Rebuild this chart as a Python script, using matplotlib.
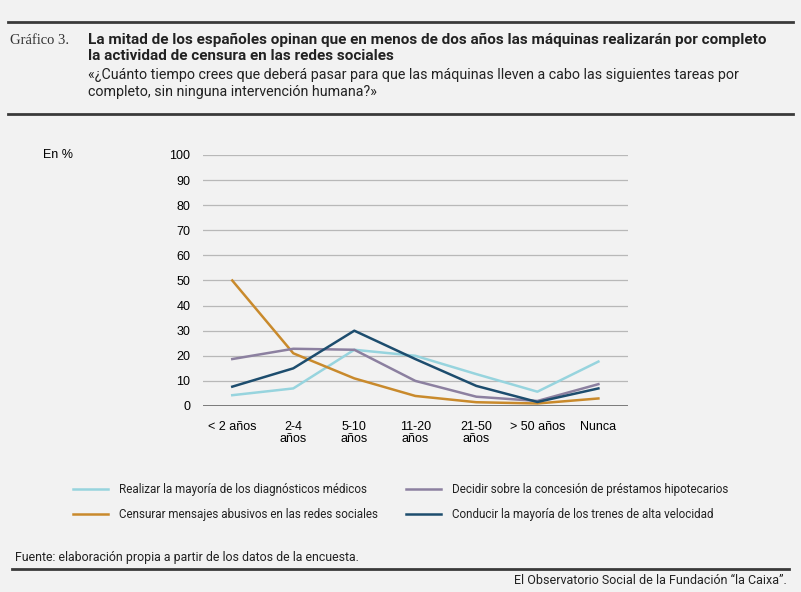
import matplotlib.pyplot as plt
from matplotlib.lines import Line2D

# Datos (en %)
periodos = ["< 2 años", "2-4\naños", "5-10\naños", "11-20\naños", "21-50\naños", "> 50 años", "Nunca"]
diagnosticos = [4.3, 7.0, 22.4, 20.0, 12.7, 5.7, 17.7]
prestamos = [18.7, 22.8, 22.4, 10.0, 3.7, 2.0, 8.7]
censura = [50.0, 21.0, 11.0, 4.0, 1.5, 1.0, 3.0]
trenes = [7.7, 15.0, 30.0, 18.7, 8.0, 1.6, 7.0]

# orden de la leyenda: columna izquierda primero
series = [
    ("Realizar la mayoría de los diagnósticos médicos", diagnosticos, "#97d4de"),
    ("Censurar mensajes abusivos en las redes sociales", censura, "#c98a2c"),
    ("Decidir sobre la concesión de préstamos hipotecarios", prestamos, "#8c80a0"),
    ("Conducir la mayoría de los trenes de alta velocidad", trenes, "#1d4d6e"),
]

FONT = ["Roboto", "DejaVu Sans"]
plt.rcParams["font.family"] = FONT
BG = "#f2f2f2"
TXT = "#222222"

fig = plt.figure(figsize=(8.01, 5.92), dpi=100, facecolor=BG)
ax = fig.add_axes([0.2534, 0.3142, 0.531, 0.424], facecolor=BG)

x = list(range(len(periodos)))
for nombre, valores, color in series:
    ax.plot(x, valores, color=color, lw=1.8, clip_on=False, zorder=3, label=nombre)

ax.set_xlim(-0.48, 6.49)
ax.set_ylim(0, 100)
ax.set_yticks(range(0, 101, 10))
ax.set_xticks(x)
ax.set_xticklabels(periodos, fontsize=9, family=["Liberation Sans", "DejaVu Sans"], linespacing=1.05)
ax.tick_params(axis="y", length=0, pad=9, labelsize=9)
ax.tick_params(axis="x", length=0, pad=10.5)
for lab in ax.get_yticklabels():
    lab.set_family(["Liberation Sans", "DejaVu Sans"])
ax.yaxis.grid(True, color="#b8b8b8", lw=0.9)
ax.set_axisbelow(True)
for s in ax.spines.values():
    s.set_visible(False)
ax.axhline(0, color="#7a7a7a", lw=1.4, zorder=2)

fig.text(43 / 801, 1 - 155 / 592, "En %", fontsize=9, va="center",
         family=["Liberation Sans", "DejaVu Sans"])

# Cabecera
fig.add_artist(Line2D([8 / 801, 793 / 801], [1 - 22 / 592] * 2, color="#3a3a3a", lw=2))
fig.add_artist(Line2D([8 / 801, 793 / 801], [1 - 114 / 592] * 2, color="#3a3a3a", lw=2))
fig.text(10 / 801, 1 - 40 / 592, "Gráfico 3.", fontsize=10.5, va="center",
         family=["Liberation Serif", "DejaVu Serif"], color="#333333")
fig.text(88 / 801, 1 - 48 / 592,
         "La mitad de los españoles opinan que en menos de dos años las máquinas realizarán por completo\n"
         "la actividad de censura en las redes sociales",
         fontsize=10.95, fontweight="bold", va="center", linespacing=1.15, color=TXT)
fig.text(88 / 801, 1 - 83.5 / 592,
         "«¿Cuánto tiempo crees que deberá pasar para que las máquinas lleven a cabo las siguientes tareas por\n"
         "completo, sin ninguna intervención humana?»",
         fontsize=10.3, va="center", linespacing=1.3, color=TXT)

# Leyenda
handles, labels = ax.get_legend_handles_labels()
leg = fig.legend(handles, labels, ncol=2, loc="center left",
                 bbox_to_anchor=(62 / 801, 1 - 502 / 592), frameon=False,
                 fontsize=8.4, handlelength=3.0, handletextpad=0.95,
                 columnspacing=2.4, labelspacing=1.05)
for t in leg.get_texts():
    t.set_color(TXT)

# Pie
fig.text(15 / 801, 1 - 557 / 592, "Fuente: elaboración propia a partir de los datos de la encuesta.",
         fontsize=8.9, va="center", color=TXT)
fig.add_artist(Line2D([12 / 801, 789 / 801], [1 - 569 / 592] * 2, color="#3a3a3a", lw=2))
fig.text(787 / 801, 1 - 581 / 592, "El Observatorio Social de la Fundación “la Caixa”.",
         fontsize=9, va="center", ha="right", color=TXT)

fig.savefig("out.png", dpi=100, facecolor=BG)
